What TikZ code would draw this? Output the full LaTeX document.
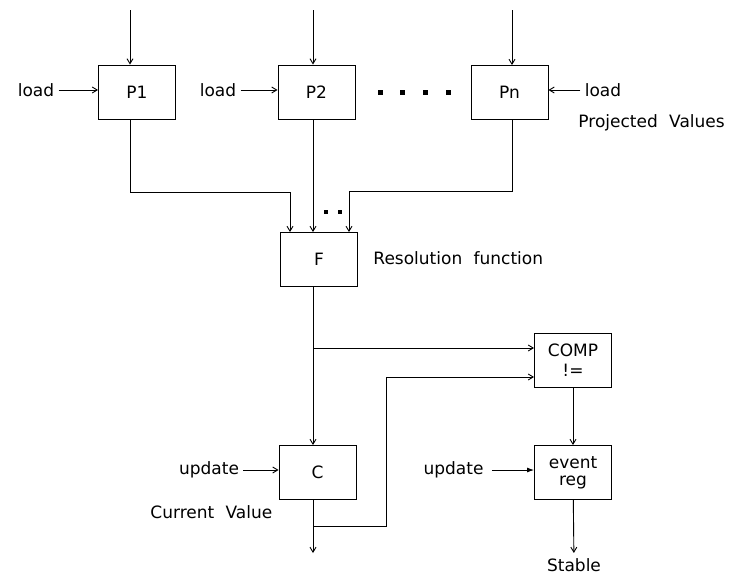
\documentclass[tikz,border=0pt]{standalone}
\usepackage{fontspec}
\setmainfont[WordSpace=2.1]{DejaVu Sans}
\usepackage{tikz}
\usetikzlibrary{arrows.meta,positioning}

\begin{document}
\begin{tikzpicture}[x=1pt, y=-1pt, line width=0.9pt, >={Straight Barb[length=5pt,width=6pt]}]
\useasboundingbox (0,0) rectangle (743,576);
\tikzstyle{every node} = [font=\fontsize{17}{20}\selectfont, inner sep=4pt]
\tikzstyle{blk} = [draw, minimum width=77pt, minimum height=54pt, align=center, inner sep=1pt]
% registers and blocks
\node[blk] (p1) at (137,92) {P1};
\node[blk] (p2) at (316.5,92) {P2};
\node[blk] (pn) at (509.5,92.5) {Pn};
\node[blk] (f) at (319,259.5) {F};
\node[blk] (cmp) at (573,360) {COMP\\!=};
\node[blk] (c) at (317.5,472.5) {C};
\node[blk] (ev) at (573,472.5) {event\\[-3pt]reg};
% labels
\node (l1) at (36,90) {load};
\node (l2) at (218,90) {load};
\node (ln) at (603,90) {load};
\node[anchor=west] (pv) at (574,123) {Projected Values};
\node[anchor=west] (rf) at (369,258) {Resolution function};
\node (u1) at (209,470) {update};
\node (u2) at (453.5,470) {update};
\node[anchor=west] (cv) at (146,512) {Current Value};
\node[inner sep=2pt] (st) at (574,565) {Stable};
% free ends and taps
\coordinate (t1) at (130,10);
\coordinate (t2) at (313,10);
\coordinate (tn) at (512,10);
\coordinate (j1) at (313,348);
\coordinate (j2) at (313,526);
\coordinate (cout) at (313,553);
% inputs
\draw[->] (t1) -- (t1 |- p1.north);
\draw[->] (t2) -- (t2 |- p2.north);
\draw[->] (tn) -- (tn |- pn.north);
\draw[->] (l1) -- (l1 -| p1.west);
\draw[->] (l2) -- (l2 -| p2.west);
\draw[->] (ln) -- (ln -| pn.east);
\foreach \x in {380,402,425,448}
  \fill (\x-2.5,89.5) rectangle (\x+2.5,94.5);
% to resolution function
\draw[->] (t1 |- p1.south) -- ++(0,73) -| ([xshift=-29pt]f.north);
\draw[->] (t2 |- p2.south) -- (t2 |- f.north);
\draw[->] (tn |- pn.south) -- ++(0,71) -| ([xshift=30pt]f.north);
\foreach \x in {326,340}
  \fill (\x-2,210) rectangle (\x+2,214);
% current value and compare
\draw[->] (f.south -| t2) -- (t2 |- c.north);
\draw[->] (j1) -- ([yshift=12pt]cmp.west);
\draw[->] (c.south -| cout) -- (cout);
\draw[->] (j2) -- (386,526) |- ([yshift=-17pt]cmp.west);
\draw[->] (u1) -- (u1 -| c.west);
\draw[-{Latex[length=7pt,width=5pt]}, shorten <=4pt] (u2) -- (u2 -| ev.west);
\draw[->] (cmp) -- (ev);
\draw[->, shorten >=3pt] (ev) -- (st);
\end{tikzpicture}
\end{document}
